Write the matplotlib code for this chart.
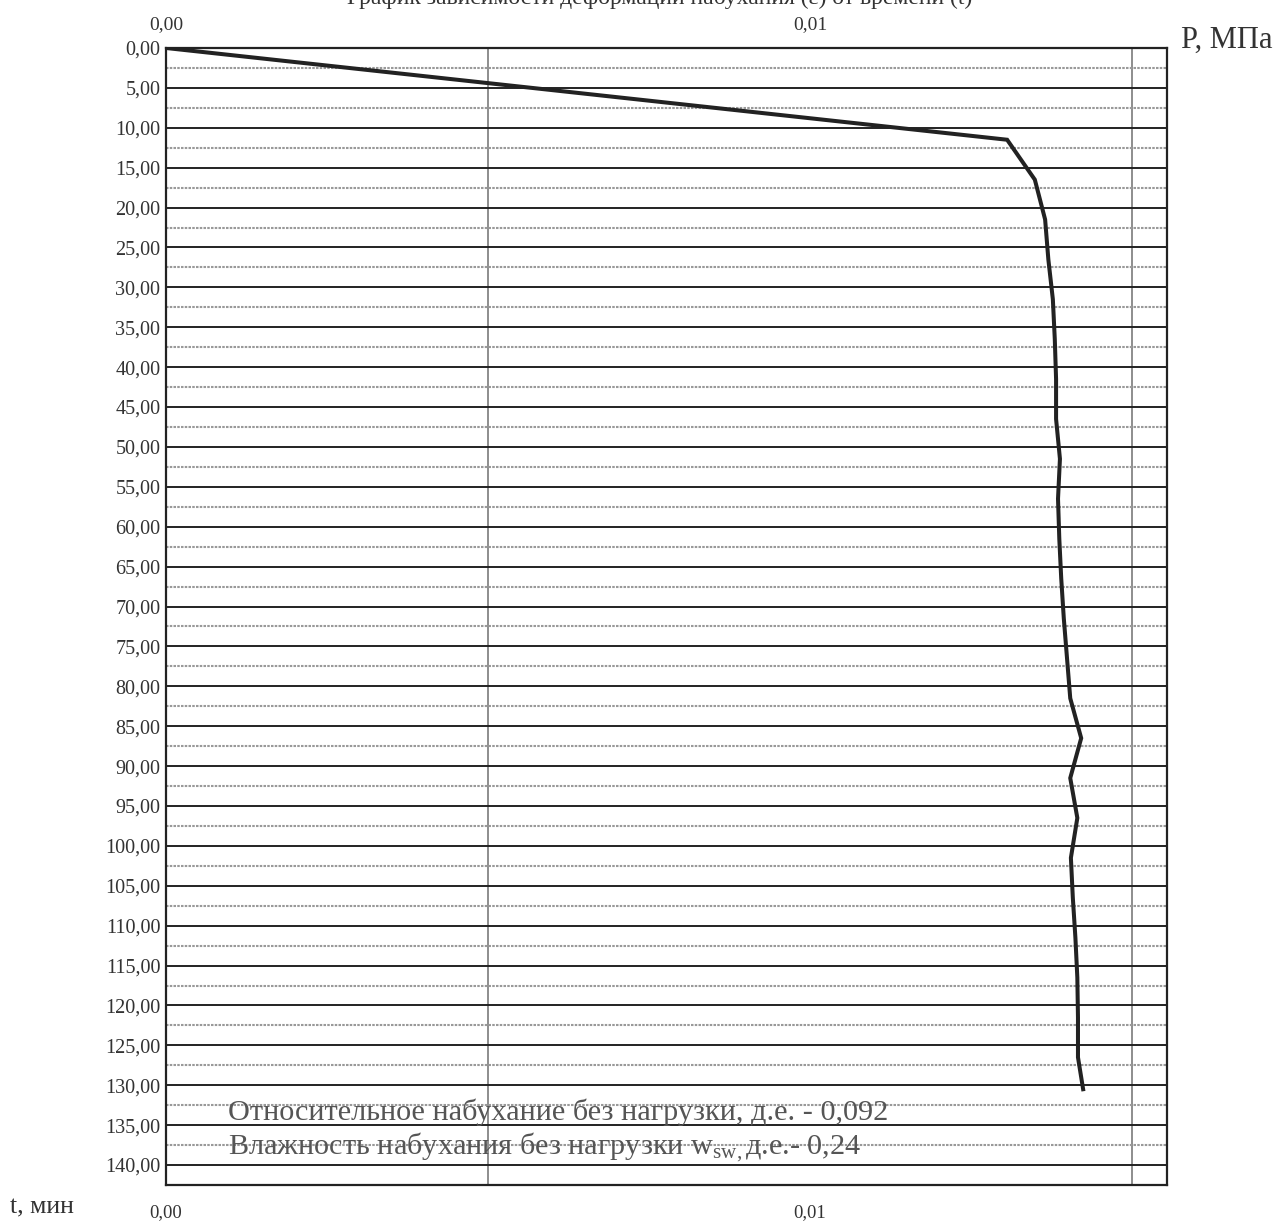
import numpy as np
import matplotlib
matplotlib.use('Agg')
import matplotlib.pyplot as plt
from matplotlib.ticker import MultipleLocator, FixedLocator

# время, мин
t_min = [0, 11.5, 16.5, 21.5, 26.5, 31.5, 36.5, 41.5, 46.5, 51.5, 56.5, 61.5,
         66.5, 71.5, 76.5, 81.5, 86.5, 91.5, 96.5, 101.5, 106.5, 111.5, 116.5,
         121.5, 126.5, 130.5]
# относительная деформация набухания
eps = [0.0, 0.01306, 0.01349, 0.01365, 0.01370, 0.01377, 0.01380, 0.01382,
       0.01382, 0.01388, 0.01385, 0.01387, 0.01390, 0.01394, 0.01399, 0.01404,
       0.01421, 0.01404, 0.01415, 0.01405, 0.01408, 0.01412, 0.01415, 0.01416,
       0.01416, 0.01424]

x_labels = [0.0, 0.01]
title = 'График зависимости деформации набухания (ε) от времени (t)'
note_1 = 'Относительное набухание без нагрузки, д.е. - 0,092'
note_2 = r'Влажность набухания без нагрузки w$_{\mathrm{sw,}}$д.е.- 0,24'

plt.rcParams['font.family'] = ['Liberation Serif', 'DejaVu Serif']
plt.rcParams['mathtext.fontset'] = 'custom'
plt.rcParams['mathtext.rm'] = 'Liberation Serif'
plt.rcParams['mathtext.it'] = 'Liberation Serif:italic'

fig = plt.figure(figsize=(12.86, 12.21), dpi=100)
ax = fig.add_axes([0.1291, 0.0295, 0.7784, 0.9312])

ax.plot(eps, t_min, color='#222222', linewidth=2.9, solid_joinstyle='miter', zorder=3)

ax.set_xlim(0, 0.015543)
ax.set_ylim(142.5, 0)

# сетка: сплошные линии через 5 мин, пунктир через 2,5 мин
ax.yaxis.set_major_locator(MultipleLocator(5))
ax.yaxis.set_minor_locator(FixedLocator(np.arange(2.5, 142, 5)))
ax.grid(True, axis='y', which='major', color='#222222', linewidth=1.4)
ax.grid(True, axis='y', which='minor', color='#999999', linewidth=1.5,
        linestyle=(0, (1.2, 0.6)))
ax.xaxis.set_major_locator(FixedLocator(x_labels))
ax.xaxis.set_minor_locator(FixedLocator([0.005, 0.01, 0.015]))
ax.grid(True, axis='x', which='minor', color='#7a7a7a', linewidth=1.2)
ax.set_axisbelow(True)

ax.set_yticks(np.arange(0, 141, 5))
ax.set_yticklabels([('%.2f' % v).replace('.', ',') for v in np.arange(0, 141, 5)])
ax.tick_params(axis='y', which='both', length=0, pad=4, labelsize=14.5, labelcolor='#333333')

ax.set_xticklabels(['0,00', '0,01'])
ax.tick_params(axis='x', which='both', length=0, pad=14, labelsize=13.5, labelcolor='#333333')

top = ax.secondary_xaxis('top')
top.set_xticks(x_labels)
top.set_xticklabels(['0,00', '0,01'])
top.tick_params(length=0, pad=11, labelsize=14, labelcolor='#333333')
for s in top.spines.values():
    s.set_visible(False)

for s in ax.spines.values():
    s.set_linewidth(1.6)
    s.set_color('#222222')

# подписи осей
fig.text(1181 / 1286, 1 - 40 / 1221, 'P, МПа', fontsize=22, va='center', ha='left',
         color='#333333')
fig.text(10 / 1286, 1 - 1207 / 1221, 't, мин', fontsize=18.5, va='center', ha='left',
         color='#333333')
fig.text(0.513, 1 - 4 / 1221, title, fontsize=17, ha='center', va='baseline',
         color='#333333')

ax.text(0.062, 0.064, note_1, transform=ax.transAxes, fontsize=21.8, va='center',
        color='#555555', zorder=4)
ax.text(0.062, 0.0334, note_2, transform=ax.transAxes, fontsize=21.8, va='center',
        color='#555555', zorder=4)

plt.savefig('out.png', dpi=100)
